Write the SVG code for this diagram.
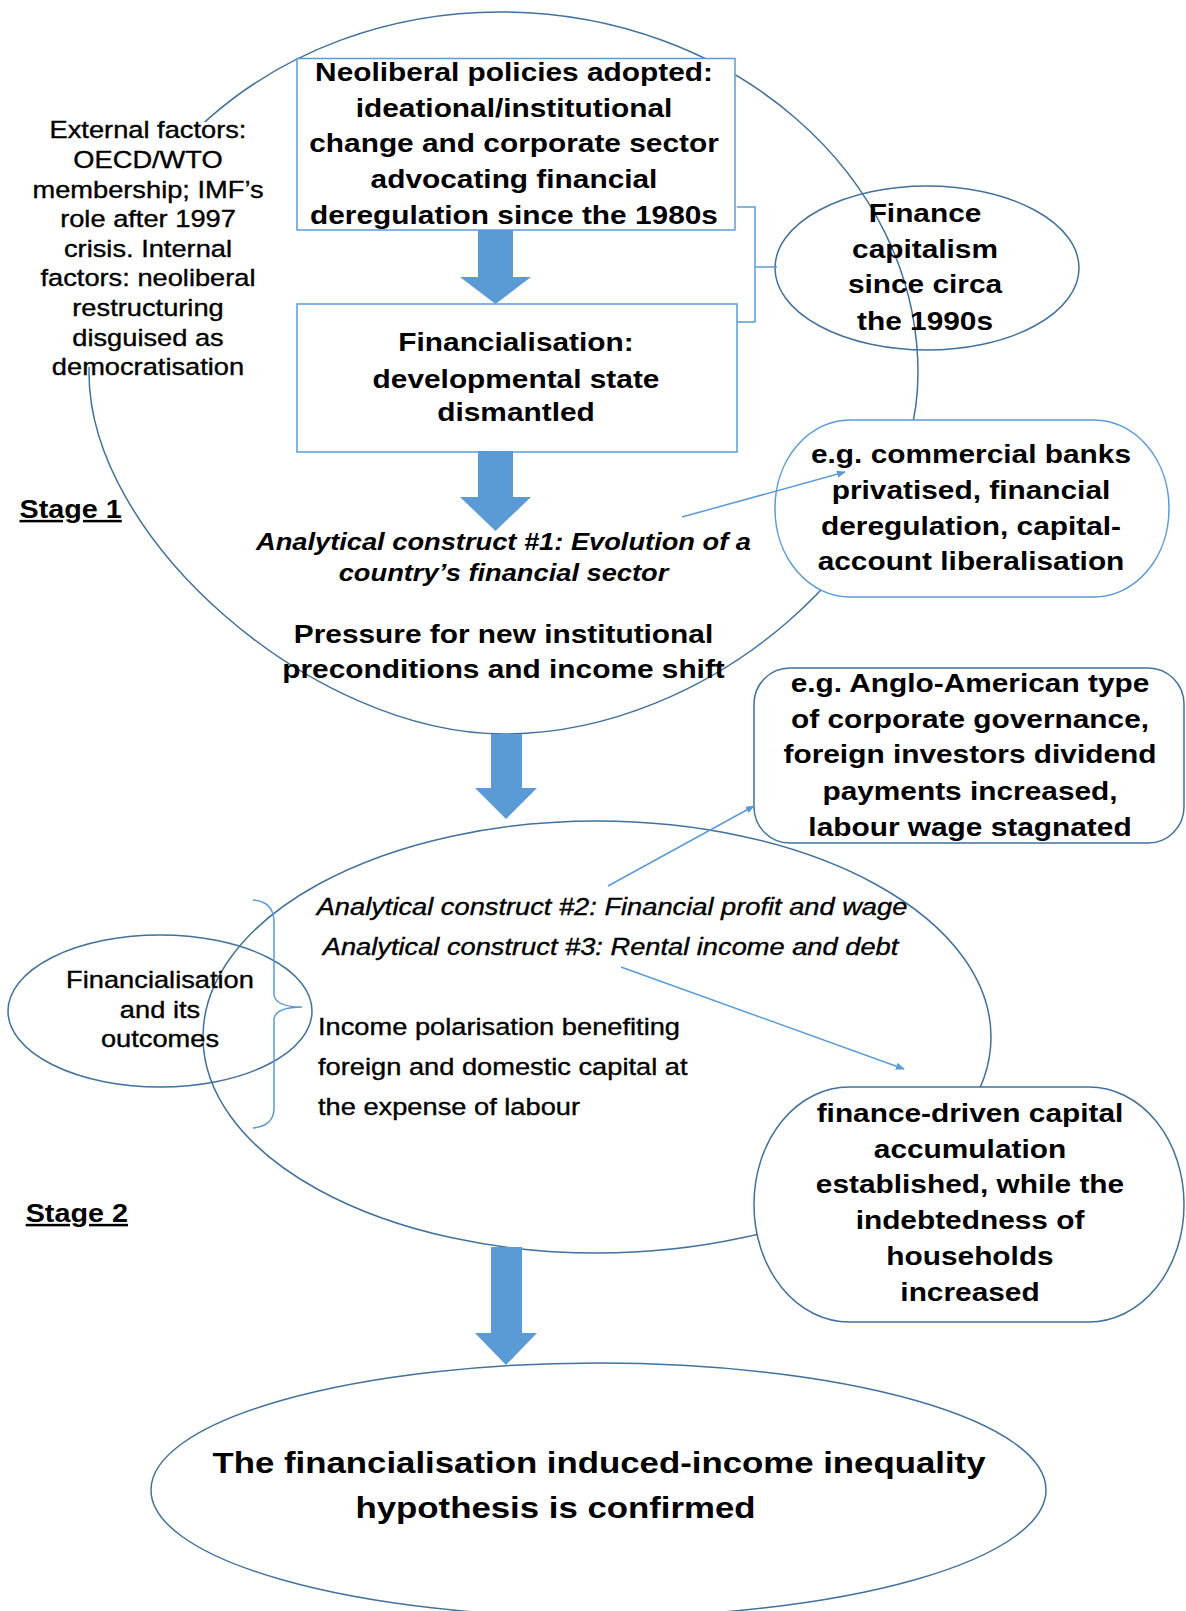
<svg xmlns="http://www.w3.org/2000/svg" width="1186" height="1611" viewBox="0 0 1186 1611">
<style>
.t{font-family:"Liberation Sans",Arial,sans-serif;fill:#000}
.b{font-weight:bold;font-size:25.5px}
.r{font-size:23.3px;stroke:#000;stroke-width:0.35}
.bi{font-weight:bold;font-style:italic;font-size:23.3px}
.i{font-style:italic;font-size:23.3px;stroke:#000;stroke-width:0.35}
.lb{fill:none;stroke:#5b9bd5;stroke-width:1.5}
.db{fill:none;stroke:#41719c;stroke-width:1.5}
.wlb{fill:#fff;stroke:#5b9bd5;stroke-width:1.5}
.wdb{fill:#fff;stroke:#41719c;stroke-width:1.5}
.blk{fill:#5b9bd5}
.ln{fill:none;stroke:#5b9bd5;stroke-width:1.5}
</style>
<defs>
<marker id="ah" viewBox="0 0 10 10" refX="9" refY="5" markerWidth="9" markerHeight="9" markerUnits="userSpaceOnUse" orient="auto"><path d="M0,1 L10,5 L0,9 z" fill="#5b9bd5"/></marker>
</defs>
<rect width="1186" height="1611" fill="#fff"/>

<g id="stage1">
<path class="db" d="M500,12 C731,12 918,175 918,373 C918,553 711,734 504,734 C313,734 89,539 89,373 C89,174 273,12 500,12 Z"/>
<g transform="translate(503.5,0) scale(1.17,1)">
<text class="t bi" text-anchor="middle"><tspan x="0" y="550">Analytical construct #1: Evolution of a</tspan><tspan x="0" y="581.5">country’s financial sector</tspan></text>
<text class="t b" text-anchor="middle"><tspan x="0" y="643">Pressure for new institutional</tspan><tspan x="0" y="678.5">preconditions and income shift</tspan></text>
</g>
</g>

<g id="stage1-label">
<g transform="translate(19.5,0) scale(1.15,1)"><text class="t" font-weight="bold" font-size="25px" text-decoration="underline" x="0" y="518">Stage 1</text></g>
</g>

<g id="external">
<rect x="30" y="122" width="236" height="245" fill="#fff"/>
<g transform="translate(148,0) scale(1.17,1)">
<text class="t r" text-anchor="middle"><tspan x="0" y="138.5">External factors:</tspan><tspan x="0" y="168.1">OECD/WTO</tspan><tspan x="0" y="197.7">membership; IMF’s</tspan><tspan x="0" y="227.3">role after 1997</tspan><tspan x="0" y="256.9">crisis. Internal</tspan><tspan x="0" y="286.5">factors: neoliberal</tspan><tspan x="0" y="316.1">restructuring</tspan><tspan x="0" y="345.7">disguised as</tspan><tspan x="0" y="375.3">democratisation</tspan></text>
</g>
</g>

<g id="neoliberal">
<rect class="wlb" x="297" y="58.5" width="438" height="171.5"/>
<g transform="translate(514,0) scale(1.17,1)">
<text class="t b" text-anchor="middle"><tspan x="0" y="81.5">Neoliberal policies adopted:</tspan><tspan x="0" y="117">ideational/institutional</tspan><tspan x="0" y="152">change and corporate sector</tspan><tspan x="0" y="188">advocating financial</tspan><tspan x="0" y="224">deregulation since the 1980s</tspan></text>
</g>
</g>

<g id="financialisation">
<rect class="wlb" x="297" y="304" width="440" height="148"/>
<g transform="translate(516,0) scale(1.17,1)">
<text class="t b" text-anchor="middle"><tspan x="0" y="351.5">Financialisation:</tspan><tspan x="0" y="388">developmental state</tspan><tspan x="0" y="421.5">dismantled</tspan></text>
</g>
</g>

<g id="commercial-banks">
<rect class="wlb" x="775" y="420" width="394" height="177" rx="75" ry="88"/>
<g transform="translate(971,0) scale(1.17,1)">
<text class="t b" text-anchor="middle"><tspan x="0" y="463">e.g. commercial banks</tspan><tspan x="0" y="499">privatised, financial</tspan><tspan x="0" y="535">deregulation, capital-</tspan><tspan x="0" y="570">account liberalisation</tspan></text>
</g>
</g>

<g id="finance-capitalism">
<ellipse class="db" cx="927" cy="268" rx="152" ry="82"/>
<g transform="translate(925,0) scale(1.17,1)">
<text class="t b" text-anchor="middle"><tspan x="0" y="222">Finance</tspan><tspan x="0" y="258">capitalism</tspan><tspan x="0" y="293.5">since circa</tspan><tspan x="0" y="330">the 1990s</tspan></text>
</g>
</g>

<g id="stage2">
<ellipse class="db" cx="597" cy="1037" rx="394" ry="216"/>
<g transform="translate(612,0) scale(1.17,1)">
<text class="t i" text-anchor="middle" x="0" y="915">Analytical construct #2: Financial profit and wage</text>
</g>
<g transform="translate(610.5,0) scale(1.17,1)">
<text class="t i" text-anchor="middle" x="0" y="955.5">Analytical construct #3: Rental income and debt</text>
</g>
<g transform="translate(318,0) scale(1.17,1)">
<text class="t r"><tspan x="0" y="1035">Income polarisation benefiting</tspan><tspan x="0" y="1075.5">foreign and domestic capital at</tspan><tspan x="0" y="1114.5">the expense of labour</tspan></text>
</g>
</g>

<g id="stage2-label">
<g transform="translate(25.7,0) scale(1.15,1)"><text class="t" font-weight="bold" font-size="25px" text-decoration="underline" x="0" y="1222">Stage 2</text></g>
</g>

<g id="outcomes">
<ellipse class="db" cx="160" cy="1011" rx="152" ry="76"/>
<g transform="translate(160,0) scale(1.17,1)">
<text class="t r" text-anchor="middle"><tspan x="0" y="988">Financialisation</tspan><tspan x="0" y="1018.5">and its</tspan><tspan x="0" y="1047">outcomes</tspan></text>
</g>
</g>

<g id="anglo-american">
<rect class="wdb" x="754" y="668" width="430" height="175" rx="36" ry="36"/>
<g transform="translate(970,0) scale(1.17,1)">
<text class="t b" text-anchor="middle"><tspan x="0" y="692">e.g. Anglo-American type</tspan><tspan x="0" y="728">of corporate governance,</tspan><tspan x="0" y="763.5">foreign investors dividend</tspan><tspan x="0" y="800">payments increased,</tspan><tspan x="0" y="836">labour wage stagnated</tspan></text>
</g>
</g>

<g id="finance-driven">
<rect class="wdb" x="754" y="1087" width="430" height="235" rx="95" ry="117"/>
<g transform="translate(970,0) scale(1.17,1)">
<text class="t b" text-anchor="middle"><tspan x="0" y="1122">finance-driven capital</tspan><tspan x="0" y="1158">accumulation</tspan><tspan x="0" y="1193">established, while the</tspan><tspan x="0" y="1229.5">indebtedness of</tspan><tspan x="0" y="1265.5">households</tspan><tspan x="0" y="1301">increased</tspan></text>
</g>
</g>

<g id="hypothesis">
<ellipse class="db" cx="598.5" cy="1490" rx="447.5" ry="127"/>
<g transform="translate(599,0) scale(1.16,1)">
<text class="t" font-weight="bold" font-size="30px" text-anchor="middle" x="0" y="1473">The financialisation induced-income inequality</text>
</g>
<g transform="translate(555.5,0) scale(1.16,1)">
<text class="t" font-weight="bold" font-size="30px" text-anchor="middle" x="0" y="1518.5">hypothesis is confirmed</text>
</g>
</g>

<g id="connectors">
<polygon class="blk" points="478,230 513,230 513,277 531,277 495.5,304 460,277 478,277"/>
<polygon class="blk" points="478,451 513,451 513,497 531,497 495.5,531 460,497 478,497"/>
<polygon class="blk" points="491,734 522,734 522,788 537,788 506,819 475,788 491,788"/>
<polygon class="blk" points="491,1247 522,1247 522,1333 537,1333 506,1365 475,1333 491,1333"/>
<path class="ln" d="M737,207 H755 V322 H737 M755,267 H777"/>
<line class="ln" x1="682" y1="517" x2="845" y2="472" marker-end="url(#ah)"/>
<line class="ln" x1="608" y1="886" x2="754" y2="806" marker-end="url(#ah)"/>
<line class="ln" x1="621" y1="967" x2="904" y2="1069" marker-end="url(#ah)"/>
<path class="ln" d="M253,900 Q274,902 274,922 V995 Q276,1007 302,1007 Q276,1007 274,1019 V1108 Q274,1126 253,1128"/>
</g>
</svg>
